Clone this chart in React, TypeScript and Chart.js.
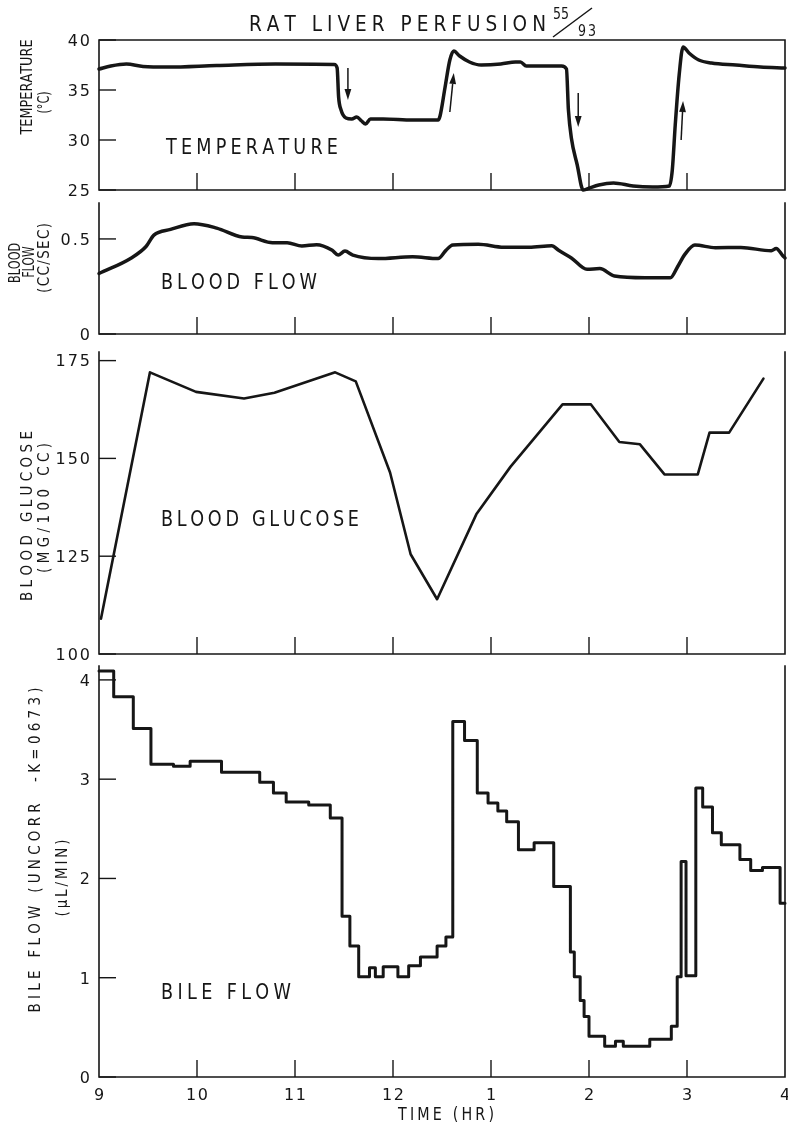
import { useEffect, useRef } from 'react';
import { Chart, registerables } from 'chart.js';

Chart.register(...registerables);

const FONT = '"DejaVu Sans", "Liberation Sans", sans-serif';
const INK = '#161616';

// ---------------- data ----------------
const hourTicks = [9, 10, 11, 12, 13, 14, 15, 16];
const hourLabels = ['9', '10', '11', '12', '1', '2', '3', '4'];

const tempHours = [9.00, 9.12, 9.28, 9.45, 9.70, 10.20, 10.80, 11.40, 11.43, 11.445, 11.47, 11.52, 11.58, 11.63, 11.68, 11.72, 11.77, 11.90, 12.20, 12.46, 12.48, 12.53, 12.58, 12.62, 12.68, 12.78, 12.90, 13.10, 13.25, 13.30, 13.36, 13.50, 13.72, 13.77, 13.79, 13.82, 13.88, 13.94, 13.98, 14.10, 14.25, 14.45, 14.65, 14.82, 14.85, 14.88, 14.92, 14.96, 15.02, 15.12, 15.25, 15.50, 15.75, 16.00];
const tempValues = [37.1, 37.4, 37.6, 37.35, 37.3, 37.45, 37.6, 37.55, 37.2, 34.3, 33.0, 32.2, 32.1, 32.3, 31.9, 31.6, 32.1, 32.1, 32.0, 32.0, 32.4, 35.2, 38.0, 38.9, 38.4, 37.8, 37.5, 37.6, 37.8, 37.8, 37.4, 37.4, 37.4, 37.1, 33.0, 30.2, 27.5, 25.0, 25.1, 25.5, 25.7, 25.4, 25.3, 25.4, 27.0, 31.5, 36.5, 39.3, 38.7, 38.0, 37.7, 37.5, 37.3, 37.2];
const tempTicks = [25, 30, 35, 40];
const tempTickLabels = ['25', '30', '35', '40'];
// arrows marking the temperature changes (start -> head)
const arrowFromHours = [11.54, 12.58, 13.89, 14.94];
const arrowFromValues = [37.2, 32.8, 34.7, 30.0];
const arrowToHours = [11.54, 12.62, 13.89, 14.96];
const arrowToValues = [34.0, 36.7, 31.3, 33.9];

const flowHours = [9.00, 9.33, 9.48, 9.56, 9.73, 9.97, 10.20, 10.46, 10.56, 10.77, 10.92, 11.07, 11.22, 11.38, 11.44, 11.51, 11.59, 11.85, 12.20, 12.46, 12.54, 12.61, 12.87, 13.13, 13.39, 13.62, 13.69, 13.82, 13.98, 14.11, 14.26, 14.57, 14.83, 14.90, 14.98, 15.08, 15.29, 15.55, 15.86, 15.91, 15.98, 16.00];
const flowValues = [0.318, 0.40, 0.46, 0.52, 0.55, 0.58, 0.557, 0.51, 0.507, 0.48, 0.48, 0.463, 0.47, 0.44, 0.415, 0.436, 0.415, 0.397, 0.406, 0.397, 0.44, 0.468, 0.472, 0.456, 0.456, 0.464, 0.44, 0.40, 0.34, 0.344, 0.305, 0.296, 0.296, 0.35, 0.42, 0.468, 0.454, 0.455, 0.438, 0.45, 0.41, 0.40];
const flowTicks = [0, 0.5];
const flowTickLabels = ['0', '0.5'];

const glucoseHours = [9.02, 9.52, 9.99, 10.48, 10.79, 11.41, 11.62, 11.97, 12.18, 12.45, 12.85, 13.20, 13.46, 13.73, 14.02, 14.31, 14.52, 14.77, 15.11, 15.23, 15.43, 15.78];
const glucoseValues = [109, 172, 167, 165.3, 166.8, 172, 169.7, 146.4, 125.5, 114, 135.7, 147.9, 155.7, 163.8, 163.8, 154.2, 153.6, 145.9, 145.9, 156.6, 156.6, 170.4];
const glucoseTicks = [100, 125, 150, 175];
const glucoseTickLabels = ['100', '125', '150', '175'];

const bileHours = [9.00, 9.15, 9.35, 9.53, 9.76, 9.93, 10.25, 10.64, 10.78, 10.91, 11.14, 11.36, 11.48, 11.56, 11.65, 11.76, 11.82, 11.90, 12.05, 12.16, 12.28, 12.45, 12.54, 12.61, 12.73, 12.86, 12.97, 13.07, 13.16, 13.28, 13.44, 13.64, 13.81, 13.85, 13.91, 13.95, 14.00, 14.16, 14.27, 14.35, 14.62, 14.84, 14.90, 14.94, 14.99, 15.09, 15.16, 15.26, 15.35, 15.54, 15.65, 15.77, 15.95, 16.00];
const bileValues = [4.09, 3.83, 3.51, 3.15, 3.13, 3.18, 3.07, 2.97, 2.86, 2.77, 2.74, 2.61, 1.62, 1.32, 1.01, 1.10, 1.01, 1.11, 1.01, 1.12, 1.21, 1.32, 1.41, 3.58, 3.39, 2.86, 2.76, 2.68, 2.57, 2.29, 2.36, 1.92, 1.26, 1.01, 0.77, 0.61, 0.41, 0.31, 0.36, 0.31, 0.38, 0.51, 1.01, 2.17, 1.02, 2.91, 2.72, 2.46, 2.34, 2.19, 2.08, 2.11, 1.75, 1.75];
const bileTicks = [0, 1, 2, 3, 4];
const bileTickLabels = ['0', '1', '2', '3', '4'];

// ---------------- layout / styling ----------------
type TextSpec = {
  text: string; x: number; y: number; w: number; size: number;
  rotate?: boolean; align?: 'left' | 'center' | 'right';
};
type LineSpec = { x1: number; y1: number; x2: number; y2: number };

interface PanelSpec {
  top: number; height: number; padTop: number; padBottom: number;
  yMin: number; yMax: number; yTicks: number[]; yTickLabels: string[];
  hours: number[]; values: number[];
  lineWidth: number; mode: 'smooth' | 'straight' | 'step';
  texts: TextSpec[]; lines?: LineSpec[];
  topBorder?: boolean; xLabels?: boolean; arrows?: boolean;
}

const panels: PanelSpec[] = [
  {
    top: 0, height: 200, padTop: 40, padBottom: 10,
    yMin: 25, yMax: 40, yTicks: tempTicks, yTickLabels: tempTickLabels,
    hours: tempHours, values: tempValues, lineWidth: 3.5, mode: 'smooth',
    topBorder: true, arrows: true,
    texts: [
      { text: 'RAT LIVER PERFUSION', x: 249, y: 22.5, w: 297, size: 22 },
      { text: '55', x: 561, y: 14, w: 16, size: 15, align: 'center' },
      { text: '93', x: 587, y: 30.5, w: 18, size: 15, align: 'center' },
      { text: 'TEMPERATURE', x: 166, y: 146, w: 172, size: 21 },
      { text: 'TEMPERATURE', x: 26, y: 87, w: 95, size: 16, rotate: true, align: 'center' },
      { text: '(°C)', x: 43, y: 102.5, w: 22, size: 16, rotate: true, align: 'center' },
    ],
    lines: [{ x1: 553, y1: 37, x2: 592, y2: 8 }],
  },
  {
    top: 200, height: 145, padTop: 3, padBottom: 11,
    yMin: 0, yMax: 0.689, yTicks: flowTicks, yTickLabels: flowTickLabels,
    hours: flowHours, values: flowValues, lineWidth: 3.5, mode: 'smooth',
    texts: [
      { text: 'BLOOD FLOW', x: 161, y: 281.5, w: 156, size: 21 },
      { text: 'BLOOD', x: 13.7, y: 263, w: 40, size: 16, rotate: true, align: 'center' },
      { text: 'FLOW', x: 28, y: 262, w: 31, size: 16, rotate: true, align: 'center' },
      { text: '(CC/SEC)', x: 43, y: 258, w: 70, size: 16, rotate: true, align: 'center' },
    ],
  },
  {
    top: 345, height: 315, padTop: 7, padBottom: 6,
    yMin: 100, yMax: 177.2, yTicks: glucoseTicks, yTickLabels: glucoseTickLabels,
    hours: glucoseHours, values: glucoseValues, lineWidth: 2.6, mode: 'straight',
    texts: [
      { text: 'BLOOD GLUCOSE', x: 161, y: 518.5, w: 198, size: 21 },
      { text: 'BLOOD GLUCOSE', x: 26, y: 516, w: 170, size: 16, rotate: true, align: 'center' },
      { text: '(MG/100 CC)', x: 43, y: 508, w: 130, size: 16, rotate: true, align: 'center' },
    ],
  },
  {
    top: 660, height: 462, padTop: 6, padBottom: 45,
    yMin: 0, yMax: 4.14, yTicks: bileTicks, yTickLabels: bileTickLabels,
    hours: bileHours, values: bileValues, lineWidth: 3, mode: 'step',
    xLabels: true,
    texts: [
      { text: 'BILE FLOW', x: 161, y: 991.5, w: 130, size: 21 },
      { text: 'BILE FLOW (UNCORR  -K=0673)', x: 34, y: 850, w: 325, size: 16, rotate: true, align: 'center' },
      { text: '(μL/MIN)', x: 61, y: 878, w: 77, size: 16, rotate: true, align: 'center' },
      { text: 'TIME (HR)', x: 446, y: 1113.5, w: 96, size: 17, align: 'center' },
    ],
  },
];

const PLOT_LEFT = 99;
const PLOT_RIGHT = 785;
const CANVAS_W = 788;
const TICK_LEN = 17;

// draw text with its cap-height centred on y, spread/condensed to a target width
function drawText(
  ctx: CanvasRenderingContext2D, text: string, x: number, y: number,
  opts: { size: number; width?: number; spacing?: number; align?: 'left' | 'center' | 'right'; rotate?: boolean }
) {
  ctx.save();
  ctx.font = `${opts.size}px ${FONT}`;
  const chars = Array.from(text);
  const widths = chars.map((c) => ctx.measureText(c).width);
  const w0 = widths.reduce((a, b) => a + b, 0);
  let sx = 0.84;
  let sp = opts.spacing ?? 0;
  if (opts.width !== undefined) {
    if (w0 * sx > opts.width) { sx = opts.width / w0; sp = 0; }
    else sp = chars.length > 1 ? (opts.width / sx - w0) / (chars.length - 1) : 0;
  } else {
    sx = 1;
  }
  const total = (w0 + sp * (chars.length - 1)) * sx;
  ctx.translate(x, y);
  if (opts.rotate) ctx.rotate(-Math.PI / 2);
  const align = opts.align ?? 'left';
  const start = align === 'left' ? 0 : align === 'center' ? -total / 2 : -total;
  ctx.translate(start, 0);
  ctx.scale(sx, 1);
  ctx.textBaseline = 'alphabetic';
  ctx.textAlign = 'left';
  ctx.fillStyle = INK;
  const base = (opts.size * 0.729) / 2;
  let cx = 0;
  chars.forEach((c, i) => {
    ctx.fillText(c, cx, base);
    cx += widths[i] + sp;
  });
  ctx.restore();
}

function makeDecor(spec: PanelSpec) {
  return {
    id: 'decor',
    beforeDatasetsDraw(chart: any) {
      const { ctx, chartArea } = chart;
      const xs = chart.scales.x;
      const ys = chart.scales.y;
      const { left, right, top, bottom } = chartArea;
      ctx.save();
      ctx.strokeStyle = INK;
      ctx.lineWidth = 1.6;
      ctx.lineCap = 'square';
      ctx.beginPath();
      ctx.moveTo(left, top); ctx.lineTo(left, bottom); ctx.lineTo(right, bottom); ctx.lineTo(right, top);
      if (spec.topBorder) ctx.lineTo(left, top);
      ctx.stroke();
      ctx.lineCap = 'butt';
      ctx.lineWidth = 1.4;
      // inward y ticks
      spec.yTicks.forEach((v) => {
        const py = ys.getPixelForValue(v);
        ctx.beginPath(); ctx.moveTo(left, py); ctx.lineTo(left + TICK_LEN, py); ctx.stroke();
      });
      // inward x ticks (inner hours only)
      hourTicks.slice(1, -1).forEach((h) => {
        const px = xs.getPixelForValue(h);
        ctx.beginPath(); ctx.moveTo(px, bottom); ctx.lineTo(px, bottom - TICK_LEN); ctx.stroke();
      });
      ctx.restore();
    },
    afterDatasetsDraw(chart: any) {
      const { ctx } = chart;
      const xs = chart.scales.x;
      const ys = chart.scales.y;
      const off = spec.top;
      ctx.save();
      // y tick labels
      spec.yTicks.forEach((v, i) => {
        drawText(ctx, spec.yTickLabels[i], 90, ys.getPixelForValue(v), { size: 16, spacing: 2, align: 'right' });
      });
      // x tick labels
      if (spec.xLabels) {
        hourTicks.forEach((h, i) => {
          drawText(ctx, hourLabels[i], xs.getPixelForValue(h), 1094 - off, { size: 16, spacing: 1.5, align: 'center' });
        });
      }
      spec.texts.forEach((t) => {
        drawText(ctx, t.text, t.x, t.y - off, { size: t.size, width: t.w, align: t.align ?? 'left', rotate: t.rotate });
      });
      ctx.strokeStyle = INK;
      ctx.lineWidth = 1.5;
      (spec.lines ?? []).forEach((l) => {
        ctx.beginPath(); ctx.moveTo(l.x1, l.y1 - off); ctx.lineTo(l.x2, l.y2 - off); ctx.stroke();
      });
      if (spec.arrows) {
        ctx.fillStyle = INK;
        arrowFromHours.forEach((h, i) => {
          const x1 = xs.getPixelForValue(h);
          const y1 = ys.getPixelForValue(arrowFromValues[i]);
          const x2 = xs.getPixelForValue(arrowToHours[i]);
          const y2 = ys.getPixelForValue(arrowToValues[i]);
          const ang = Math.atan2(y2 - y1, x2 - x1);
          const hl = 11, hw = 3.4;
          const bx = x2 - hl * Math.cos(ang), by = y2 - hl * Math.sin(ang);
          ctx.beginPath(); ctx.moveTo(x1, y1); ctx.lineTo(bx, by); ctx.stroke();
          ctx.beginPath();
          ctx.moveTo(x2, y2);
          ctx.lineTo(bx + hw * Math.sin(ang), by - hw * Math.cos(ang));
          ctx.lineTo(bx - hw * Math.sin(ang), by + hw * Math.cos(ang));
          ctx.closePath(); ctx.fill();
        });
      }
      ctx.restore();
    },
  };
}

function Panel({ spec }: { spec: PanelSpec }) {
  const ref = useRef<HTMLCanvasElement | null>(null);
  useEffect(() => {
    if (!ref.current) return;
    const data = spec.hours.map((h, i) => ({ x: h, y: spec.values[i] }));
    const chart = new Chart(ref.current, {
      type: 'line',
      data: {
        datasets: [
          {
            data,
            borderColor: INK,
            borderWidth: spec.lineWidth,
            pointRadius: 0,
            fill: false,
            clip: false as any,
            borderJoinStyle: 'round',
            borderCapStyle: 'round',
            stepped: spec.mode === 'step' ? 'before' : false,
            tension: 0,
            cubicInterpolationMode: spec.mode === 'smooth' ? 'monotone' : 'default',
          } as any,
        ],
      },
      options: {
        animation: false,
        responsive: false,
        events: [],
        layout: { padding: { left: PLOT_LEFT, right: CANVAS_W - PLOT_RIGHT, top: spec.padTop, bottom: spec.padBottom } },
        plugins: { legend: { display: false }, tooltip: { enabled: false }, title: { display: false } },
        scales: {
          x: { type: 'linear', min: 9, max: 16, display: false },
          y: { type: 'linear', min: spec.yMin, max: spec.yMax, display: false },
        },
      },
      plugins: [makeDecor(spec)],
    });
    return () => chart.destroy();
  }, [spec]);
  return (
    <canvas
      ref={ref}
      width={CANVAS_W}
      height={spec.height}
      style={{ position: 'absolute', left: 0, top: spec.top, width: CANVAS_W, height: spec.height }}
    />
  );
}

export default function App() {
  return (
    <div style={{ position: 'absolute', left: 0, top: 0, width: 788, height: 1122, background: '#fff' }}>
      {panels.map((p, i) => (
        <Panel key={i} spec={p} />
      ))}
    </div>
  );
}
